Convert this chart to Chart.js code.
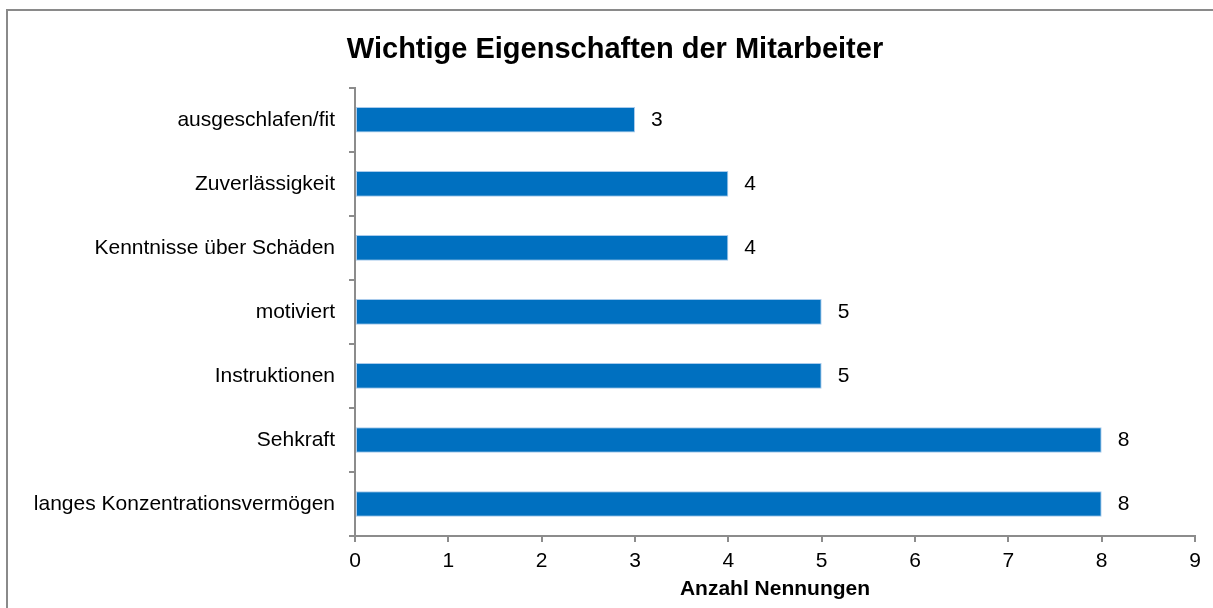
<!DOCTYPE html>
<html>
<head>
<meta charset="utf-8">
<script src="https://cdn.jsdelivr.net/npm/chart.js@4"></script>
<style>
  html, body { margin: 0; padding: 0; background: #fff; }
  #wrap { position: relative; width: 1213px; height: 608px; }
</style>
</head>
<body>
<div id="wrap"><canvas id="eigenschaftenChart" width="1213" height="608"></canvas></div>
<script>
// Wichtige Eigenschaften der Mitarbeiter
const categories = [
    'ausgeschlafen/fit',
    'Zuverlässigkeit',
    'Kenntnisse über Schäden',
    'motiviert',
    'Instruktionen',
    'Sehkraft',
    'langes Konzentrationsvermögen'
];
const nennungen = [3, 4, 4, 5, 5, 8, 8];
const xMin = 0;
const xMax = 9;

const fontFamily = '"Liberation Sans", Arial, sans-serif';
const axisGray = '#8c8c8c';

// frame around the chart (left and top edges are visible)
const framePlugin = {
    id: 'frame',
    beforeDraw(chart) {
        const ctx = chart.ctx;
        ctx.save();
        ctx.strokeStyle = '#8a8a8a';
        ctx.lineWidth = 2;
        ctx.beginPath();
        ctx.moveTo(7, 620);
        ctx.lineTo(7, 10);
        ctx.lineTo(1220, 10);
        ctx.stroke();
        ctx.restore();
    }
};

// value labels right of each bar
const valueLabels = {
    id: 'valueLabels',
    afterDatasetsDraw(chart) {
        const ctx = chart.ctx;
        const meta = chart.getDatasetMeta(0);
        ctx.save();
        ctx.font = '21px ' + fontFamily;
        ctx.fillStyle = '#000';
        ctx.textAlign = 'left';
        ctx.textBaseline = 'middle';
        meta.data.forEach((bar, i) => {
            ctx.fillText(String(nennungen[i]), bar.x + 16, bar.y);
        });
        ctx.restore();
    }
};

document.addEventListener('DOMContentLoaded', () => {
    const ctx = document.getElementById('eigenschaftenChart').getContext('2d');
    new Chart(ctx, {
        type: 'bar',
        data: {
            labels: categories,
            datasets: [{
                data: nennungen,
                backgroundColor: '#0070c0',
                borderColor: '#a9cbec',
                borderWidth: 1,
                borderSkipped: false,
                categoryPercentage: 1,
                barPercentage: 0.4
            }]
        },
        options: {
            indexAxis: 'y',
            responsive: false,
            animation: false,
            layout: { padding: { left: 35, right: 18, top: 0, bottom: 0 } },
            plugins: {
                legend: { display: false },
                tooltip: { enabled: false },
                title: {
                    display: true,
                    text: 'Wichtige Eigenschaften der Mitarbeiter',
                    color: '#000',
                    font: { family: fontFamily, size: 29, weight: 'bold', lineHeight: 1.2 },
                    padding: { top: 33, bottom: 20 }
                }
            },
            scales: {
                x: {
                    min: xMin,
                    max: xMax,
                    afterFit: (scale) => { scale.height = 72; },
                    ticks: {
                        stepSize: 1,
                        color: '#000',
                        padding: 7,
                        font: { family: fontFamily, size: 21 }
                    },
                    grid: {
                        drawOnChartArea: false,
                        drawTicks: true,
                        tickLength: 6,
                        color: axisGray,
                        lineWidth: 2
                    },
                    border: { color: axisGray, width: 2 },
                    title: {
                        display: true,
                        text: 'Anzahl Nennungen',
                        color: '#000',
                        font: { family: fontFamily, size: 21, weight: 'bold', lineHeight: 1.2 },
                        padding: { top: 0, bottom: 6 }
                    }
                },
                y: {
                    afterFit: (scale) => { scale.width = 320; },
                    ticks: {
                        color: '#000',
                        padding: 14,
                        font: { family: fontFamily, size: 21 }
                    },
                    grid: {
                        offset: true,
                        drawOnChartArea: false,
                        drawTicks: true,
                        tickLength: 6,
                        color: axisGray,
                        lineWidth: 2
                    },
                    border: { color: axisGray, width: 2 }
                }
            }
        },
        plugins: [framePlugin, valueLabels]
    });
});
</script>
</body>
</html>
